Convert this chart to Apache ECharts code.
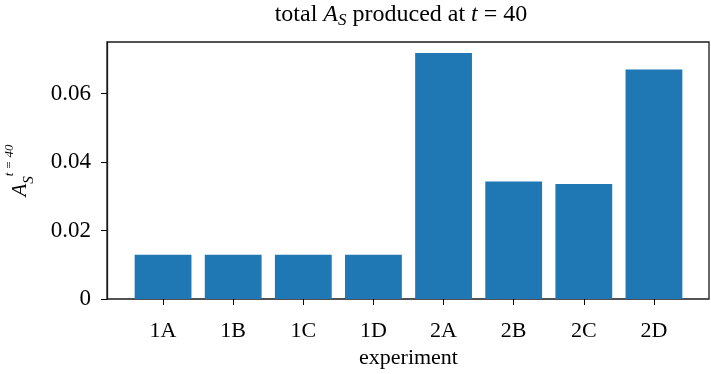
<!DOCTYPE html>
<html>
<head>
<meta charset="utf-8">
<script src="https://cdn.jsdelivr.net/npm/echarts@6/dist/echarts.min.js"></script>
<style>
  html, body { margin: 0; padding: 0; background: #fff; }
  #chart { width: 711px; height: 374px; }
</style>
</head>
<body>
<div id="chart"></div>
<script>
const experiments = ['1A', '1B', '1C', '1D', '2A', '2B', '2C', '2D']
const totalAs = [0.0129, 0.0129, 0.0129, 0.0129, 0.0719, 0.0343, 0.0336, 0.0671]
const yTicks = [0, 0.02, 0.04, 0.06]

const serif = 'Liberation Serif'
const chart = echarts.init(document.getElementById('chart'))

const option = {
  backgroundColor: '#fff',
  animation: false,
  textStyle: { fontFamily: serif },
  title: {
    text: 'total {i|A}{sub|S} produced at {i|t} = 40',
    left: 401,
    textAlign: 'center',
    top: 1,
    padding: 0,
    textStyle: {
      fontFamily: serif,
      fontSize: 24,
      fontWeight: 'normal',
      color: '#000',
      rich: {
        i: { fontFamily: serif, fontSize: 24, fontStyle: 'italic', color: '#000' },
        sub: { fontFamily: serif, fontSize: 17, fontStyle: 'italic', color: '#000', padding: [11, 0, 0, 0] }
      }
    }
  },
  grid: [
    // bars: category bands sized like the matplotlib bars
    { left: 128, width: 561, top: 42, height: 257, outerBoundsMode: 'none', containLabel: false },
    // frame with y axis
    {
      left: 107, width: 602, top: 42, height: 257, outerBoundsMode: 'none', containLabel: false,
      show: true, borderColor: '#1a1a1a', borderWidth: 1.3, backgroundColor: 'transparent'
    }
  ],
  xAxis: [
    {
      type: 'category',
      gridIndex: 0,
      data: experiments,
      name: 'experiment',
      nameLocation: 'middle',
      nameGap: 48,
      nameTextStyle: { fontFamily: serif, fontSize: 22, color: '#000' },
      axisLine: { show: false },
      axisTick: { show: true, alignWithLabel: true, length: 6, lineStyle: { color: '#000', width: 1 } },
      axisLabel: { fontFamily: serif, fontSize: 22, color: '#000', margin: 21 }
    },
    { type: 'value', gridIndex: 1, show: false, min: 0, max: 1 }
  ],
  yAxis: [
    { type: 'value', gridIndex: 0, show: false, min: 0, max: 0.0751 },
    {
      type: 'value',
      gridIndex: 1,
      min: 0,
      max: 0.0751,
      name: '{i|A}{sub|S}{sup|t = 40}',
      nameLocation: 'middle',
      nameRotate: 90,
      nameGap: 70,
      nameTextStyle: {
        fontFamily: serif,
        color: '#000',
        rich: {
          i: { fontFamily: serif, fontSize: 21, fontStyle: 'italic', color: '#000', lineHeight: 34, verticalAlign: 'middle' },
          sub: { fontFamily: serif, fontSize: 15, fontStyle: 'italic', color: '#000', lineHeight: 34, verticalAlign: 'bottom' },
          sup: { fontFamily: serif, fontSize: 13, fontStyle: 'italic', color: '#000', lineHeight: 34, verticalAlign: 'top' }
        }
      },
      splitLine: { show: false },
      axisLine: { show: true, lineStyle: { color: '#1a1a1a', width: 1.3 } },
      axisTick: { show: true, length: 6, customValues: yTicks, lineStyle: { color: '#000', width: 1 } },
      axisLabel: {
        fontFamily: serif,
        fontSize: 23,
        color: '#000',
        margin: 16,
        customValues: yTicks,
        formatter: v => (v === 0 ? '0' : v.toFixed(2))
      }
    }
  ],
  series: [
    {
      type: 'bar',
      xAxisIndex: 0,
      yAxisIndex: 0,
      data: totalAs,
      barWidth: '81%',
      itemStyle: { color: '#1f77b4' }
    }
  ]
}

chart.setOption(option)
</script>
</body>
</html>
